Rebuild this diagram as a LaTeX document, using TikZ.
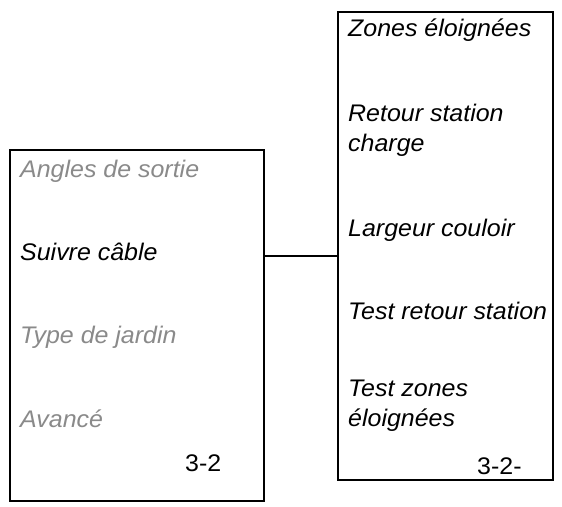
\documentclass[tikz,border=0pt]{standalone}
\usepackage{fontspec}
\setmainfont{Liberation Sans}[FakeStretch=1.04]
\definecolor{menugray}{HTML}{8A8A8A}
\begin{document}
\begin{tikzpicture}[x=1pt,y=-1pt,
  box/.style={draw=black,line width=1.8pt,inner sep=0pt},
  item/.style={anchor=base west,inner sep=0pt,font=\fontsize{24}{30}\selectfont\itshape,align=left},
  dim/.style={item,text=menugray},
  code/.style={anchor=base west,inner sep=0pt,font=\fontsize{24}{30}\selectfont}]
\useasboundingbox (0,0) rectangle (562,506);
\fill[white] (0,0) rectangle (562,506);
\node[box,minimum width=254pt,minimum height=351pt,anchor=north west] (L) at (9,149) {};
\node[box,minimum width=215pt,minimum height=468pt,anchor=north west] (R) at (337,11) {};
\coordinate (c1) at (263,256);
\coordinate (c2) at (337,256);
\draw[line width=1.4pt] (L.east |- c1) -- (R.west |- c2);
% left box
\node[dim] (a1) at (20,177) {Angles de sortie};
\node[item] (a2) at (20,260) {Suivre câble};
\node[dim] (a3) at (20,343) {Type de jardin};
\node[dim] (a4) at (20,427) {Avancé};
\node[code] (a5) at (185,471) {3-2};
% right box
\node[item] (b1) at (348,36) {Zones éloignées};
\node[item] (b2) at (348,151) {Retour station\\charge};
\node[item] (b3) at (348,236) {Largeur couloir};
\node[item] (b4) at (348,319) {Test retour station};
\node[item] (b5) at (348,426) {Test zones\\éloignées};
\node[code] (b6) at (477,474) {3-2-};
\end{tikzpicture}
\end{document}
